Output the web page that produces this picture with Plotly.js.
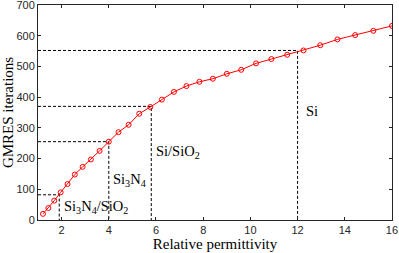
<!DOCTYPE html>
<html><head><meta charset="utf-8">
<script src="https://cdn.plot.ly/plotly-3.0.1.min.js"></script>
<style>html,body{margin:0;padding:0;background:#fff}#c{width:399px;height:253px}</style>
</head><body><div id="c"></div>
<script>
const permittivity = [1.21,1.44,1.69,1.96,2.25,2.56,2.89,3.24,3.61,4.00,4.41,4.84,5.29,5.76,6.25,6.76,7.29,7.84,8.41,9.00,9.61,10.24,10.89,11.56,12.25,12.96,13.69,14.44,15.21,16.00];
const iterations = [20,39,63,90,117,148,173,197,225,255,286,310,346,368,392,417,436,450,460,476,489,510,524,538,552,569,588,602,616,632];
const guideX = [1.9, 4.0, 5.8, 12.0];
const guideY = [82, 255, 370, 552];
const labels = ["Si<sub>3</sub>N<sub>4</sub>/SiO<sub>2</sub>", "Si<sub>3</sub>N<sub>4</sub>", "Si/SiO<sub>2</sub>", "Si"];
const labelX = [2.0, 4.08, 5.9, 12.28];
const labelY = [42, 130, 222, 354];
const xTicks = [2,4,6,8,10,12,14,16];
const yTicks = [0,100,200,300,400,500,600,700];

const traces = [];
for (let i = 0; i < guideX.length; i++) {
  traces.push({x:[1, guideX[i], guideX[i]], y:[guideY[i], guideY[i], 0], mode:'lines',
    line:{color:'#000', width:1, dash:'3px,2px'}, hoverinfo:'skip', showlegend:false});
}
traces.push({x:permittivity, y:iterations, mode:'lines+markers',
  line:{color:'#ff0000', width:1}, marker:{symbol:'circle-open', size:5, color:'#ff0000', line:{width:1}}, showlegend:false});

const serif = '"Liberation Serif", "DejaVu Serif", serif';
const annotations = labels.map((t,i)=>({x:labelX[i], y:labelY[i], text:t, showarrow:false, xanchor:'left', yanchor:'middle',
  font:{family:serif, size:14.5, color:'#000'}}));

const axisCommon = {showline:true, mirror:'ticks', linecolor:'#262626', linewidth:1, ticks:'inside', ticklen:3, tickcolor:'#262626',
  showgrid:false, zeroline:false, ticklabeloverflow:'allow',
  tickfont:{family:'"Liberation Sans", Arial, sans-serif', size:11, color:'#262626'}};

Plotly.newPlot('c', traces, {
  width:399, height:253, margin:{l:38, r:7, t:5, b:33},
  paper_bgcolor:'#fff', plot_bgcolor:'#fff',
  xaxis:Object.assign({}, axisCommon, {range:[1,16.001], tickvals:xTicks, ticktext:xTicks.map(String),
    title:{text:'Relative permittivity', font:{family:serif, size:15, color:'#000'}, standoff:0}}),
  yaxis:Object.assign({}, axisCommon, {range:[-0.01,700.01], tickvals:yTicks, ticktext:yTicks.map(String),
    title:{text:'GMRES iterations', font:{family:serif, size:15, color:'#000'}, standoff:2}}),
  annotations:annotations
}, {displayModeBar:false, staticPlot:true});
</script></body></html>
